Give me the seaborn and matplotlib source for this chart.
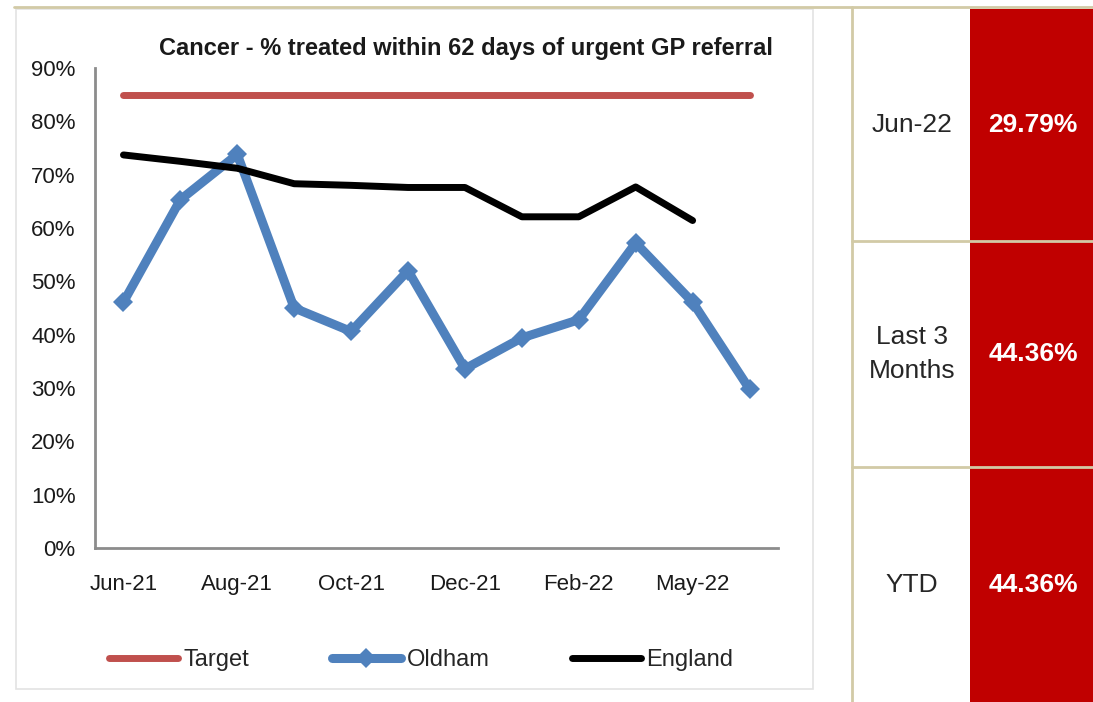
import seaborn as sns
import pandas as pd
import numpy as np
import matplotlib.pyplot as plt
from matplotlib.patches import Rectangle
from matplotlib.lines import Line2D

months = ['Jun-21', 'Jul-21', 'Aug-21', 'Sep-21', 'Oct-21', 'Nov-21',
          'Dec-21', 'Jan-22', 'Feb-22', 'Mar-22', 'May-22', 'Jun-22']
target = [85, 85, 85, 85, 85, 85, 85, 85, 85, 85, 85, 85]
oldham = [46.1, 65.3, 73.8, 45.0, 40.6, 52.0, 33.6, 39.4, 42.8, 57.2, 46.1, 29.79]
england = [73.7, 72.5, 71.2, 68.3, 68.0, 67.6, 67.6, 62.1, 62.1, 67.7, 61.4, np.nan]
tick_labels = ['Jun-21', 'Aug-21', 'Oct-21', 'Dec-21', 'Feb-22', 'May-22']

table_labels = ['Jun-22', 'Last 3\nMonths', 'YTD']
table_values = ['29.79%', '44.36%', '44.36%']

df = pd.DataFrame({'month': months, 'Target': target, 'Oldham': oldham, 'England': england})
df['pos'] = np.arange(len(months))

sns.set_style('white')
plt.rcParams['font.family'] = ['Liberation Sans', 'DejaVu Sans']

color_target = '#C0504D'
color_oldham = '#4F81BD'
color_england = '#000000'
beige = '#D2CAA6'
axis_gray = '#8C8C8C'

fig = plt.figure(figsize=(10.93, 7.02), dpi=100)
W, H = 1093, 702

def fx(px):
    return px / W

def fy(py):
    return 1 - py / H

# chart panel frame
fig.patches.append(Rectangle((fx(16), fy(689)), fx(813) - fx(16), fy(9) - fy(689),
                             transform=fig.transFigure, facecolor='white',
                             edgecolor='#E3E3E3', linewidth=1.2, zorder=-5))
fig.lines.append(Line2D([fx(14), 1], [fy(7), fy(7)], transform=fig.transFigure,
                        color=beige, linewidth=2, zorder=-4))

ax = fig.add_axes([fx(95), fy(548), fx(778) - fx(95), fy(68) - fy(548)])
ax.set_facecolor('none')
ax.set_zorder(2)

sns.lineplot(data=df, x='pos', y='Target', ax=ax, color=color_target,
             linewidth=5, label='Target', solid_capstyle='round')
sns.lineplot(data=df, x='pos', y='Oldham', ax=ax, color=color_oldham,
             linewidth=6.5, marker='D', markersize=10, markeredgewidth=0,
             label='Oldham', solid_joinstyle='miter')
sns.lineplot(data=df, x='pos', y='England', ax=ax, color=color_england,
             linewidth=5, label='England', solid_capstyle='round')

ax.set_xlim(-0.5, len(months) - 0.5)
ax.set_ylim(0, 90)
ax.set_yticks(np.arange(0, 91, 10))
ax.set_yticklabels([f'{v}%' for v in range(0, 91, 10)])
ax.set_xticks(np.arange(-0.5, len(months), 1.0))
ax.set_xticklabels([])
ax.set_xticks(np.arange(0, len(months), 2), minor=True)
ax.set_xticklabels(tick_labels, minor=True)
ax.tick_params(axis='x', which='major', direction='out', length=7, width=1.5, color=axis_gray)
ax.tick_params(axis='x', which='minor', length=0, pad=19, labelsize=16, labelcolor='#1a1a1a')
ax.tick_params(axis='y', direction='out', length=6, width=1.5, color=axis_gray,
               labelsize=16, pad=8, labelcolor='#1a1a1a')
ax.set_xlabel('')
ax.set_ylabel('')
for side in ['top', 'right']:
    ax.spines[side].set_visible(False)
for side in ['left', 'bottom']:
    ax.spines[side].set_color(axis_gray)
    ax.spines[side].set_linewidth(2)

ax.set_title('Cancer - % treated within 62 days of urgent GP referral',
             fontsize=17, fontweight='bold', x=0.543, y=1.0, pad=9, color='#1a1a1a')

ax.legend(loc='center', bbox_to_anchor=(0.478, -0.234), ncol=3, frameon=False,
          fontsize=17, handlelength=2.9, handletextpad=0.25, columnspacing=3.5)

# right-hand summary table
rows = [(9, 241), (241, 467), (467, 702)]
fig.lines.append(Line2D([fx(852), fx(852)], [fy(7), 0], transform=fig.transFigure,
                        color=beige, linewidth=2))
for (top, bottom), lab, val in zip(rows, table_labels, table_values):
    fig.patches.append(Rectangle((fx(970), fy(bottom)), fx(1093) - fx(970), fy(top) - fy(bottom),
                                 transform=fig.transFigure, facecolor='#C00000',
                                 edgecolor='none', zorder=1))
    mid = (top + bottom) / 2
    fig.text(fx(912), fy(mid), lab, ha='center', va='center', fontsize=19,
             color='#262626', linespacing=1.5)
    fig.text(fx(1033), fy(mid), val, ha='center', va='center', fontsize=19,
             color='white', fontweight='bold')
for yb in [241, 467]:
    fig.lines.append(Line2D([fx(852), 1], [fy(yb), fy(yb)], transform=fig.transFigure,
                            color=beige, linewidth=2, zorder=3))

plt.savefig('out.png', dpi=100)
